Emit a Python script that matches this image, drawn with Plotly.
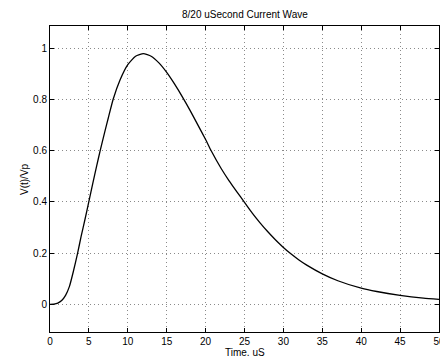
import plotly.graph_objects as go

# Time (uS) and normalized current V(t)/Vp
time_us = [0, 0.5, 1, 1.5, 2, 2.5, 3, 3.55, 4, 4.5, 5, 5.5, 6, 6.45, 7, 7.5, 8.12, 9, 10, 11,
           12, 13, 14, 15, 16, 17.2, 18, 19, 20, 20.7, 22, 23, 24, 25, 26, 27, 28, 29, 30,
           31, 32, 33, 35, 37, 40, 42, 45, 48, 50]
v_norm = [0, 0.001, 0.005, 0.015, 0.035, 0.07, 0.128, 0.2, 0.265, 0.332, 0.402, 0.472, 0.54,
          0.6, 0.668, 0.728, 0.8, 0.875, 0.935, 0.968, 0.978, 0.968, 0.942, 0.905, 0.86, 0.8,
          0.757, 0.70, 0.643, 0.6, 0.53, 0.483, 0.44, 0.398, 0.356, 0.318, 0.283, 0.251, 0.222,
          0.196, 0.173, 0.153, 0.119, 0.092, 0.063, 0.05, 0.035, 0.024, 0.019]

x_ticks = [0, 5, 10, 15, 20, 25, 30, 35, 40, 45, 50]
y_ticks = [0, 0.2, 0.4, 0.6, 0.8, 1]
y_tick_labels = ["0", "0.2", "0.4", "0.6", "0.8", "1"]

title_text = "8/20 uSecond Current Wave"
x_label = "Time, uS"
y_label = "V(t)/Vp"

font_family = "Liberation Sans, Arial, Helvetica, sans-serif"

fig = go.Figure()
fig.add_trace(go.Scatter(
    x=time_us, y=v_norm, mode="lines",
    line=dict(color="black", width=1.3, shape="spline", smoothing=0.5),
    showlegend=False, hoverinfo="skip",
))

axis_common = dict(
    showline=True, linecolor="black", linewidth=1, mirror="ticks",
    ticks="inside", ticklen=4, tickcolor="black", tickwidth=1,
    showgrid=True, gridcolor="#8a8a8a", griddash="1px,3px", gridwidth=1,
    zeroline=False, tickfont=dict(family=font_family, size=10, color="black"),
    ticklabeloverflow="allow",
)

fig.update_xaxes(range=[0, 50], tickvals=x_ticks, ticktext=[str(v) for v in x_ticks],
                 automargin=False, **axis_common)
fig.update_yaxes(range=[-0.108, 1.086], tickvals=y_ticks, ticktext=y_tick_labels,
                 automargin=False, **axis_common)

fig.update_layout(
    width=440, height=356,
    margin=dict(l=50, r=1, t=26, b=24),
    paper_bgcolor="white", plot_bgcolor="white",
    font=dict(family=font_family, size=10, color="black"),
    annotations=[
        dict(text=title_text, xref="paper", yref="paper", x=0.5, y=1, yshift=12,
             showarrow=False, xanchor="center", yanchor="middle",
             font=dict(family=font_family, size=10, color="black")),
        dict(text=x_label, xref="paper", yref="paper", x=0.5, y=0, yshift=-20,
             showarrow=False, xanchor="center", yanchor="middle",
             font=dict(family=font_family, size=10, color="black")),
        dict(text=y_label, xref="paper", yref="paper", x=0, xshift=-26, y=0.5,
             showarrow=False, xanchor="center", yanchor="middle", textangle=-90,
             font=dict(family=font_family, size=10, color="black")),
    ],
)

fig.write_html("out.html", config={"displayModeBar": False, "staticPlot": True},
               post_script="document.body.style.margin='0';document.body.style.overflow='hidden';")
